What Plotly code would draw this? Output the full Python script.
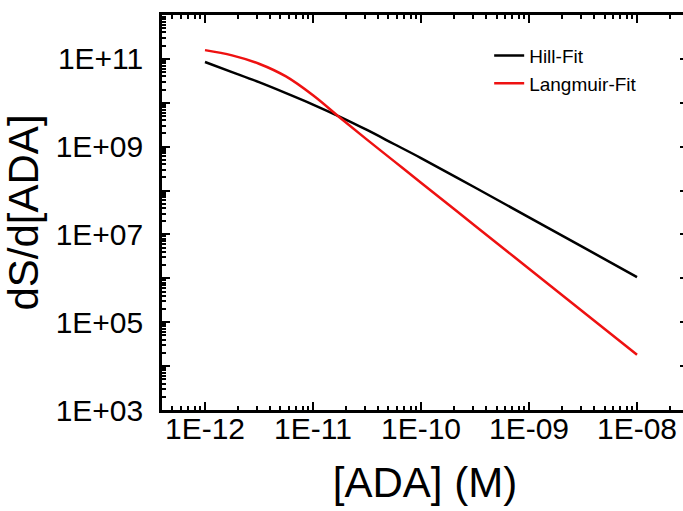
import plotly.graph_objects as go

# Data (concentration in M, dS/d[ADA])
ada_conc = [1e-12, 1.78e-12, 3.16e-12, 5.62e-12, 1e-11, 1.78e-11, 3.16e-11,
            5.62e-11, 1e-10, 3.16e-10, 1e-9, 3.16e-9, 1e-8]
hill_fit = [8.51e10, 5.01e10, 2.95e10, 1.66e10, 9.12e9, 4.79e9, 2.40e9,
            1.15e9, 5.50e8, 1.175e8, 2.45e7, 5.13e6, 1.07e6]
langmuir_fit = [1.585e11, 1.202e11, 7.76e10, 3.98e10, 1.48e10, 4.57e9, 1.445e9,
                4.68e8, 1.51e8, 1.58e7, 1.66e6, 1.74e5, 1.82e4]

x_major = [1e-12, 1e-11, 1e-10, 1e-9, 1e-8]
x_labels = ["1E-12", "1E-11", "1E-10", "1E-09", "1E-08"]
y_major = [10.0 ** e for e in range(3, 13)]
y_labels = ["1E+03", "", "1E+05", "", "1E+07", "", "1E+09", "", "1E+11", ""]

x_minor = [m * 10.0 ** e for e in range(-13, -7) for m in range(2, 10)]
y_minor = [m * 10.0 ** e for e in range(3, 12) for m in range(2, 10)]

FONT = "Liberation Sans, Arial, sans-serif"

fig = go.Figure()
fig.add_trace(go.Scatter(x=ada_conc, y=hill_fit, mode="lines", name="Hill-Fit",
                         line=dict(color="#000000", width=2.5, shape="spline")))
fig.add_trace(go.Scatter(x=ada_conc, y=langmuir_fit, mode="lines", name="Langmuir-Fit",
                         line=dict(color="#ee1111", width=2.5, shape="spline")))

fig.update_layout(
    width=690, height=511,
    margin=dict(l=162, r=2, t=15, b=101),
    paper_bgcolor="white", plot_bgcolor="white",
    font=dict(family=FONT, color="black"),
    showlegend=True,
    legend=dict(x=0.622, y=0.945, xanchor="left", yanchor="top",
                font=dict(size=19, family=FONT), bgcolor="rgba(0,0,0,0)",
                tracegroupgap=0),
)

fig.update_xaxes(
    type="log", range=[-12.398, -7.528],
    showline=True, linecolor="black", linewidth=2.5, mirror="ticks",
    showgrid=False, zeroline=False,
    ticks="inside", ticklen=8, tickwidth=2, tickcolor="black",
    tickvals=x_major, ticktext=x_labels,
    tickfont=dict(size=30, family=FONT), ticklabelstandoff=-10,
    minor=dict(ticks="inside", ticklen=4, tickwidth=1.5, tickcolor="black",
               tickvals=x_minor, showgrid=False),
    title=dict(text="[ADA] (M)", font=dict(size=42, family=FONT), standoff=24),
    automargin=False,
)
fig.update_yaxes(
    type="log", range=[3, 12],
    showline=True, linecolor="black", linewidth=2.5, mirror="ticks",
    showgrid=False, zeroline=False,
    ticks="inside", ticklen=8, tickwidth=2, tickcolor="black",
    tickvals=y_major, ticktext=y_labels,
    tickfont=dict(size=30, family=FONT), ticklabelstandoff=10,
    minor=dict(ticks="inside", ticklen=4, tickwidth=1.5, tickcolor="black",
               tickvals=y_minor, showgrid=False),
    title=dict(text="dS/d[ADA]", font=dict(size=42, family=FONT), standoff=14),
    automargin=False,
)

fig.write_html("out.html",
               post_script="document.documentElement.style.overflow='hidden';document.body.style.overflow='hidden';")
